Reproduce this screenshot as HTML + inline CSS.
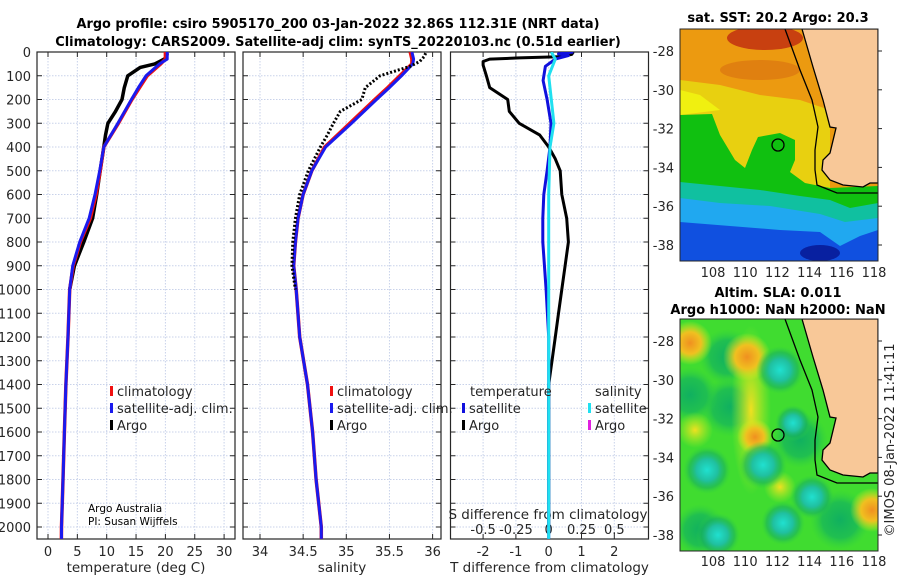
<!DOCTYPE html>
<html><head><meta charset="utf-8"><style>
body{margin:0;background:#fff;}
svg{display:block;font-family:"DejaVu Sans","Liberation Sans",sans-serif;}
.tk{font-size:13px;fill:#262626;}
.tt{font-size:12.9px;font-weight:bold;fill:#000;}
</style></head><body>
<svg id="fig" width="900" height="580" viewBox="0 0 900 580">
<defs>
<clipPath id="c1"><rect x="37" y="52" width="198" height="487"/></clipPath>
<clipPath id="c2"><rect x="243" y="52" width="198" height="487"/></clipPath>
<clipPath id="c3"><rect x="450.5" y="52" width="198" height="487"/></clipPath>
<clipPath id="cm1"><rect x="680" y="29" width="198" height="232"/></clipPath>
<clipPath id="cm2"><rect x="680" y="319" width="198" height="232"/></clipPath>
<radialGradient id="gCy"><stop offset="0" stop-color="#20e0d0"/><stop offset="0.45" stop-color="#20c0a0"/><stop offset="0.75" stop-color="#18b060" stop-opacity="0.6"/><stop offset="1" stop-color="#30d040" stop-opacity="0"/></radialGradient>
<radialGradient id="gDg"><stop offset="0" stop-color="#10b060"/><stop offset="0.6" stop-color="#18b858" stop-opacity="0.8"/><stop offset="1" stop-color="#30d040" stop-opacity="0"/></radialGradient>
<radialGradient id="gOr"><stop offset="0" stop-color="#f09020"/><stop offset="0.5" stop-color="#f0c020"/><stop offset="1" stop-color="#e0f020" stop-opacity="0"/></radialGradient>
<radialGradient id="gYe"><stop offset="0" stop-color="#f0e020"/><stop offset="1" stop-color="#c0f020" stop-opacity="0"/></radialGradient>
</defs>
<text class="tt" x="338" y="28" text-anchor="middle">Argo profile: csiro 5905170_200 03-Jan-2022 32.86S 112.31E (NRT data)</text>
<text class="tt" x="338" y="46" text-anchor="middle">Climatology: CARS2009. Satellite-adj clim: synTS_20220103.nc (0.51d earlier)</text>
<g id="axes"></g>
<g id="series"></g>

<g>
<g clip-path="url(#cm1)">
<rect x="680" y="29" width="198" height="232" fill="#ec9a10"/>
<ellipse cx="765" cy="38" rx="38" ry="12" fill="#c84010"/>
<ellipse cx="760" cy="70" rx="40" ry="10" fill="#e08010"/>
<polygon points="680,80 720,85 760,95 800,100 830,110 830,190 680,190" fill="#e8d010"/>
<polygon points="680,90 700,95 720,110 680,115" fill="#f0f010"/>
<polygon points="680,115 712,114 720,135 735,160 745,168 752,150 758,137 780,133 795,140 795,160 790,172 805,183 830,188 878,186 878,261 680,261" fill="#10c010"/>
<polygon points="680,182 720,186 760,190 800,196 830,200 850,208 878,203 878,261 680,261" fill="#10c0a0"/>
<polygon points="680,198 720,203 770,206 820,214 845,222 878,218 878,261 680,261" fill="#20a8f0"/>
<polygon points="680,222 730,226 780,230 820,232 840,246 860,236 878,230 878,261 680,261" fill="#1050e0"/>
<ellipse cx="820" cy="253" rx="20" ry="8" fill="#0820a0"/>
<g id="land1"></g>
</g>
<rect x="680" y="29" width="198" height="232" fill="none" stroke="#262626" stroke-width="1"/>
<circle cx="778" cy="145" r="6" fill="none" stroke="#000" stroke-width="1.3"/>
<text x="778" y="22" text-anchor="middle" class="tt" style="font-size:13px">sat. SST: 20.2 Argo: 20.3</text>
</g>

<g>
<g clip-path="url(#cm2)">
<rect x="680" y="319" width="198" height="232" fill="#40dc30"/>
<circle cx="727" cy="357" r="28" fill="url(#gDg)"/>
<circle cx="730" cy="407" r="30" fill="url(#gDg)"/>
<circle cx="690" cy="395" r="28" fill="url(#gDg)"/>
<circle cx="800" cy="440" r="28" fill="url(#gDg)"/>
<circle cx="840" cy="520" r="30" fill="url(#gDg)"/>
<circle cx="700" cy="530" r="26" fill="url(#gDg)"/>
<ellipse cx="751" cy="410" rx="20" ry="85" fill="url(#gYe)"/>
<circle cx="690" cy="343" r="22" fill="url(#gOr)"/>
<circle cx="747" cy="357" r="24" fill="url(#gOr)"/>
<circle cx="755" cy="437" r="18" fill="url(#gOr)"/>
<circle cx="872" cy="510" r="22" fill="url(#gOr)"/>
<circle cx="780" cy="487" r="16" fill="url(#gYe)"/>
<circle cx="695" cy="430" r="18" fill="url(#gYe)"/>
<circle cx="780" cy="370" r="24" fill="url(#gCy)"/>
<circle cx="793" cy="423" r="18" fill="url(#gCy)"/>
<circle cx="763" cy="465" r="24" fill="url(#gCy)"/>
<circle cx="707" cy="470" r="24" fill="url(#gCy)"/>
<circle cx="812" cy="497" r="22" fill="url(#gCy)"/>
<circle cx="783" cy="523" r="22" fill="url(#gCy)"/>
<circle cx="718" cy="535" r="22" fill="url(#gCy)"/>
<g id="land2" transform="translate(0,290)"></g>
</g>
<rect x="680" y="319" width="198" height="232" fill="none" stroke="#262626" stroke-width="1"/>
<circle cx="778" cy="435" r="6" fill="none" stroke="#000" stroke-width="1.3"/>
<text x="778" y="297" text-anchor="middle" class="tt" style="font-size:13px">Altim. SLA: 0.011</text>
<text x="778" y="314" text-anchor="middle" class="tt" style="font-size:13px">Argo h1000: NaN h2000: NaN</text>
</g>
<text x="0" y="0" class="tk" transform="translate(894,440) rotate(-90)" text-anchor="middle">©IMOS 08-Jan-2022 11:41:11</text>
<g id="mapaxes"></g>
</svg>
<script>
// ---- data ----
const depthTicks=[0,100,200,300,400,500,600,700,800,900,1000,1100,1200,1300,1400,1500,1600,1700,1800,1900,2000];
const tempTicks=[0,5,10,15,20,25,30];
const salTicks=[34,34.5,35,35.5,36];
const salTickLabels=["34","34.5","35","35.5","36"];
const dTTicks=[-2,-1,0,1,2];
const dSTicks=[-0.5,-0.25,0,0.25,0.5];
const dSTickLabels=["-0.5","-0.25","0","0.25","0.5"];
const climDepth=[0,30,50,100,150,200,300,400,500,600,700,800,900,1000,1200,1400,1600,1800,2000,2050];
const climT=[20.0,20.0,19.2,16.9,15.6,14.3,12.0,9.5,8.9,8.2,7.2,5.5,4.3,3.7,3.4,3.05,2.8,2.55,2.3,2.28];
const satT=[20.3,20.3,19.0,16.7,15.4,14.2,11.9,9.5,8.8,8.0,7.0,5.4,4.2,3.7,3.4,3.05,2.8,2.55,2.3,2.3];
const argoDepth=[5,20,30,40,50,65,100,150,200,250,300,350,400,500,600,700,800,900,1000];
const argoT=[20.3,20.2,19.8,19.0,18.2,15.7,13.6,13.0,12.6,11.5,10.2,9.8,9.5,8.9,8.3,7.6,6.1,4.5,3.7];
const climS=[35.74,35.76,35.76,35.62,35.48,35.33,35.04,34.75,34.6,34.5,34.44,34.41,34.39,34.42,34.46,34.55,34.61,34.65,34.71,34.71];
const satS=[35.76,35.78,35.77,35.64,35.5,35.35,35.06,34.76,34.6,34.5,34.44,34.41,34.39,34.42,34.46,34.55,34.61,34.65,34.71,34.71];
const argoSDepth=[5,20,40,60,100,150,200,250,300,350,400,500,600,700,800,900,1000];
const argoS=[35.92,35.9,35.85,35.74,35.39,35.22,35.18,34.93,34.85,34.78,34.7,34.56,34.46,34.41,34.38,34.37,34.41];
const dTArgoDepth=[0,10,20,25,30,40,55,100,150,200,250,300,350,400,450,500,600,700,800,900,1000,1100,1200,1300,1400,2000];
const dTArgo=[0.75,0.7,0.3,-0.9,-1.8,-2.0,-2.0,-1.9,-1.8,-1.25,-1.2,-0.9,-0.27,0,0.2,0.35,0.4,0.55,0.6,0.5,0.4,0.3,0.2,0.1,0,0];
const dTSatDepth=[0,8,15,30,60,120,200,300,400,500,600,700,800,1000,1200,1400,2050];
const dTSat=[0.75,0.3,0.6,0.2,-0.1,-0.17,-0.05,0.07,0.04,-0.05,-0.15,-0.18,-0.18,-0.08,0,0,0];
const dSSatDepth=[0,30,100,200,300,400,600,2050];
const dSSat=[0.02,0.05,0.0,0.02,0.04,0.01,0,0];

const yD=d=>52+d*0.2375;
const xT=t=>48+t*5.87;
const xS=s=>260+(s-34)*86.3;
const xDT=v=>548.7+v*32.8;
const xDS=v=>548.7+v*131.2;
const NS="http://www.w3.org/2000/svg";
function mk(tag,attrs,parent){const e=document.createElementNS(NS,tag);for(const k in attrs)e.setAttribute(k,attrs[k]);parent.appendChild(e);return e;}
const axes=document.getElementById('axes'),ser=document.getElementById('series');
const panels=[{x:37,clip:'c1',ticks:tempTicks,fx:xT,labels:tempTicks.map(String),title:'temperature (deg C)',name:'temperature'},
{x:243,clip:'c2',ticks:salTicks,fx:xS,labels:salTickLabels,title:'salinity',name:'salinity'},
{x:450.5,clip:'c3',ticks:dTTicks,fx:xDT,labels:dTTicks.map(String),title:'T difference from climatology',name:'difference'}];
panels.forEach(p=>{
  const g=mk('g',{},axes);
  
  
  const r=p.x+198;
  depthTicks.forEach(d=>{
    const l=mk('line',{x1:p.x,x2:r,y1:yD(d),y2:yD(d),stroke:'#c8d2ea','stroke-width':1,'stroke-dasharray':'1.5,1.5'},g);
    
    
    mk('line',{x1:p.x,x2:p.x+5,y1:yD(d),y2:yD(d),stroke:'#262626'},g);
    mk('line',{x1:r-5,x2:r,y1:yD(d),y2:yD(d),stroke:'#262626'},g);
  });
  p.ticks.forEach((t,i)=>{
    const x=p.fx(t);
    const l=mk('line',{x1:x,x2:x,y1:52,y2:539,stroke:'#c8d2ea','stroke-width':1,'stroke-dasharray':'1.5,1.5'},g);
    
    
    mk('line',{x1:x,x2:x,y1:52,y2:57,stroke:'#262626'},g);
    mk('line',{x1:x,x2:x,y1:534,y2:539,stroke:'#262626'},g);
    const tx=mk('text',{x:x,y:556,'text-anchor':'middle',class:'tk'},g);
    tx.textContent=p.labels[i];
    
    
  });
  mk('rect',{x:p.x,y:52,width:198,height:487,fill:'none',stroke:'#262626','stroke-width':1.2},g);
  const tt=mk('text',{x:p.x+99,y:572,'text-anchor':'middle',class:'tk',style:'font-size:13.5px'},g);
  tt.textContent=p.title;
  
  
});
depthTicks.forEach(d=>{
  const t=mk('text',{x:31,y:yD(d)+5,'text-anchor':'end',class:'tk'},axes);
  t.textContent=String(d);
  
  
});
dSTicks.forEach((v,i)=>{
  const t=mk('text',{x:xDS(v),y:534,'text-anchor':'middle',class:'tk'},axes);
  t.textContent=dSTickLabels[i];
  
  
});
{const t=mk('text',{x:548,y:519,'text-anchor':'middle',class:'tk',style:'font-size:13.5px'},axes);
t.textContent='S difference from climatology';

}

function line(depths,vals,fx,clip,color,w,name,dash){
  const pts=depths.map((d,i)=>fx(vals[i]).toFixed(1)+','+yD(d).toFixed(1)).join(' ');
  const a={points:pts,fill:'none',stroke:color,'stroke-width':w,'stroke-linejoin':'round','clip-path':'url(#'+clip+')'};
  if(dash)a['stroke-dasharray']=dash;
  const e=mk('polyline',a,ser);
  
  
}
line(argoDepth,argoT,xT,'c1','#000',3.5,'argo-temperature-line');
line(climDepth,climT,xT,'c1','#f01010',3.5,'climatology-temperature-line');
line(climDepth,satT,xT,'c1','#1a1aee',3,'satellite-temperature-line');
line(climDepth,climS,xS,'c2','#f01010',3.5,'climatology-salinity-line');
line(climDepth,satS,xS,'c2','#1a1aee',3,'satellite-salinity-line');
line(argoSDepth,argoS,xS,'c2','#000',3,'argo-salinity-line','2,2');
line(dTArgoDepth,dTArgo,xDT,'c3','#000',3,'argo-temperature-diff-line');
line(dTSatDepth,dTSat,xDT,'c3','#1010dd',3,'satellite-temperature-diff-line');
line(dSSatDepth,dSSat,xDS,'c3','#20e0f0',3,'satellite-salinity-diff-line');

function leg(x,y,color,text,name){
  const m=mk('rect',{x:x,y:y-10,width:3,height:10,fill:color},ser);
  
  
  const t=mk('text',{x:x+7,y:y,class:'tk',style:'font-size:13px'},ser);
  t.textContent=text;
  
  
}
[[110,'#f01010','climatology'],[110,'#1a1aee','satellite-adj. clim.'],[110,'#000','Argo']].forEach((a,i)=>leg(a[0],396+i*17,a[1],a[2],'legend-entry'));
[[330,'#f01010','climatology'],[330,'#1a1aee','satellite-adj. clim.'],[330,'#000','Argo']].forEach((a,i)=>leg(a[0],396+i*17,a[1],a[2],'legend-entry'));
{const t=mk('text',{x:470,y:396,class:'tk',style:'font-size:13px'},ser);t.textContent='temperature';
}
{const t=mk('text',{x:595,y:396,class:'tk',style:'font-size:13px'},ser);t.textContent='salinity';
}
leg(462,413,'#1010dd','satellite','legend-entry');
leg(462,430,'#000','Argo','legend-entry');
leg(588,413,'#20e0f0','satellite','legend-entry');
leg(588,430,'#e020e0','Argo','legend-entry');
{const t=mk('text',{x:88,y:512,style:'font-size:10.5px;fill:#000'},ser);t.textContent='Argo Australia';

const t2=mk('text',{x:88,y:525,style:'font-size:10.5px;fill:#000'},ser);t2.textContent='PI: Susan Wijffels';
}

const landPts="802,29 813,67 823,100 830,127 836,128 830,153 823,160 822,170 830,180 843,185 863,187 870,183 878,183 878,29";
const isoPts="785,29 800,70 812,100 818,127 815,150 815,170 817,185 837,193 878,193";
['land1','land2'].forEach(id=>{
  const g=document.getElementById(id);
  const l=mk('polygon',{points:landPts,fill:'#f8c898',stroke:'#000','stroke-width':1.3},g);
  
  
  const c=mk('polyline',{points:isoPts,fill:'none',stroke:'#000','stroke-width':1.3},g);
  
  
});
const mapLat=[-28,-30,-32,-34,-36,-38];
const mapLon=[108,110,112,114,116,118];
const ma=document.getElementById('mapaxes');
[[51,277],[341,566]].forEach(([y28,ylab])=>{
  mapLat.forEach(v=>{
    const y=y28+(-28-v)*19.4;
    const t=mk('text',{x:674,y:y+5,'text-anchor':'end',class:'tk'},ma);t.textContent=String(v);
    
    mk('line',{x1:878,x2:882,y1:y,y2:y,stroke:'#262626'},ma);
  });
  mapLon.forEach(v=>{
    const x=713+(v-108)*16.1;
    const t=mk('text',{x:x,y:ylab,'text-anchor':'middle',class:'tk'},ma);t.textContent=String(v);
    
  });
});
</script>
</body></html>
